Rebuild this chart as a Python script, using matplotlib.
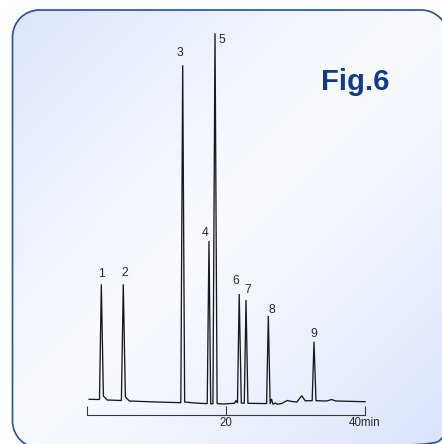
import numpy as np
import matplotlib
matplotlib.use("Agg")
import matplotlib.pyplot as plt
from matplotlib.patches import PathPatch
from matplotlib.path import Path

# ---------------- data ----------------
peak_ids = ["1", "2", "3", "4", "5", "6", "7", "8", "9"]
peak_rt = [2.06, 5.22, 13.77, 17.55, 18.42, 21.9, 22.88, 26.09, 32.66]      # min
peak_height = [115.7, 115.7, 334.7, 159.0, 366.7, 106.0, 100.0, 84.0, 58.3]  # signal

# baseline / peak-foot points of the trace (min, signal)
base_rt = [0.3, 1.8, 2.36, 2.9, 4.95, 5.52, 6.1, 10.0, 13.5, 14.05, 15.2, 16.0,
           17.3, 17.8, 18.12, 18.72, 19.5, 21.2, 21.45, 21.65, 22.2, 22.63,
           23.15, 25.0, 25.84, 26.35, 26.55, 26.75, 27.1, 27.4, 28.0, 28.8,
           29.5, 30.2, 30.9, 31.4, 32.4, 32.95, 34.5, 35.2, 35.8, 40.0]
base_signal = [0.7, 0.5, 4.0, 0.0, -0.5, 3.0, -1.0, -2.0, -2.7, -2.0, -2.8, -3.2,
               -3.7, -4.0, -3.5, -3.5, -4.0, -3.3, -0.5, -3.0, -3.0, -3.3,
               -3.3, -3.5, -3.6, -4.0, 1.0, -4.2, -3.0, -4.3, -3.5, -0.5,
               -1.5, -2.0, 4.3, -0.8, -0.7, -0.7, -1.0, 0.5, -1.0, -1.7]

xtick_values = [0, 20, 40]
xtick_labels = ["", "20", "40min"]
title_text = "Fig.6"

# label offsets (pixels) relative to each apex
label_dx = [-0.3, 1.7, -2.7, -4.0, 7.0, -3.3, 2.0, 3.7, 0.0]
label_dy = [10.3, 11.0, 12.0, 8.0, -7.0, 13.0, 10.0, 6.0, 8.0]

# ---------------- figure ----------------
W, H = 442, 444
fig = plt.figure(figsize=(W / 100, H / 100), dpi=100)
fig.patch.set_facecolor("white")

bg = fig.add_axes([0, 0, 1, 1])
bg.axis("off")

# frame geometry in pixels (y down)
BX0, BY0, BX1, BY1, BR = 12.5, 10.0, 448.0, 448.0, 27.0


def rounded_rect(x0, y0, x1, y1, r):
    # y-up coordinates: (x0, y0) bottom-left, (x1, y1) top-right
    verts, codes = [], []
    segs = [(x1 - r, y1 - r, 0, 90), (x0 + r, y1 - r, 90, 180),
            (x0 + r, y0 + r, 180, 270), (x1 - r, y0 + r, 270, 360)]
    for i, (cx, cy, a0, a1) in enumerate(segs):
        p = Path.arc(a0, a1)
        v = p.vertices * r + [cx, cy]
        c = p.codes.copy()
        if i > 0:
            c[0] = Path.LINETO
        verts.extend(v.tolist())
        codes.extend(c.tolist())
    verts.append(verts[0])
    codes.append(Path.CLOSEPOLY)
    return Path(verts, codes)


# gradient background, masked to the rounded frame in numpy (no clip path)
yy, xx = np.mgrid[0:H, 0:W]
px = xx + 0.5
py = yy + 0.5
u = (px / W + py / H) / 2.0
d = np.abs(u - 0.5) * 2.0
edge = np.array([0.855, 0.895, 0.982])
center = np.array([0.975, 0.983, 1.0])
img = center + (edge - center) * (d[..., None] ** 1.1)
qx = np.maximum.reduce([BX0 + BR - px, np.zeros_like(px), px - (BX1 - BR)])
qy = np.maximum.reduce([BY0 + BR - py, np.zeros_like(py), py - (BY1 - BR)])
inside = (px >= BX0) & (px <= BX1) & (py >= BY0) & (py <= BY1) & \
         (qx ** 2 + qy ** 2 <= BR ** 2)
img[~inside] = 1.0
bg.imshow(img, extent=(0, W, 0, H), origin="upper", zorder=1,
          interpolation="nearest")

box = PathPatch(rounded_rect(BX0, H - BY1, BX1, H - BY0, BR), facecolor="none",
                edgecolor="#2151a8", lw=1.2, zorder=3, clip_on=False)
bg.add_patch(box)
bg.set_aspect("auto")
bg.set_xlim(0, W)
bg.set_ylim(0, H)

# chromatogram axes: 0 min at px 87, 40 min at px 365; signal 0 at px 400
px_left, px_right = 87, 365
px_top, px_bot = 20, 430
ax = fig.add_axes([px_left / W, (H - px_bot) / H,
                   (px_right - px_left) / W, (px_bot - px_top) / H])
ax.set_facecolor("none")
ax.set_xlim(0, 40)
ax.set_ylim(400 - px_bot, 400 - px_top)

pts = sorted(zip(base_rt + peak_rt, base_signal + peak_height))
t_all = [p[0] for p in pts]
s_all = [p[1] for p in pts]
ax.plot(t_all, s_all, color="#1a1a1a", lw=0.95, solid_joinstyle="miter",
        clip_on=False)

for lab, t, h, dx, dy in zip(peak_ids, peak_rt, peak_height, label_dx, label_dy):
    ax.annotate(lab, xy=(t, h), xytext=(dx, dy), textcoords="offset pixels",
                ha="center", va="center", fontsize=8.8, color="#2a2a2a",
                family="Liberation Sans")

# ruler-like time axis
for sp in ["left", "right", "top"]:
    ax.spines[sp].set_visible(False)
ax.spines["bottom"].set_position(("data", -15))
ax.spines["bottom"].set_color("#3a3a3a")
ax.spines["bottom"].set_linewidth(0.8)
ax.set_yticks([])
ax.set_xticks(xtick_values)
ax.set_xticklabels(xtick_labels, family="Liberation Sans", fontsize=8.3,
                   color="#2a2a2a")
ax.tick_params(axis="x", direction="in", length=6.5, width=0.8,
               color="#3a3a3a", pad=1.5)

bg.text(321, H - 90, title_text, ha="left", va="baseline", fontsize=21,
        fontweight="bold", color="#0c3b8f", family="Liberation Sans", zorder=4)

fig.savefig("out.png", dpi=100)
